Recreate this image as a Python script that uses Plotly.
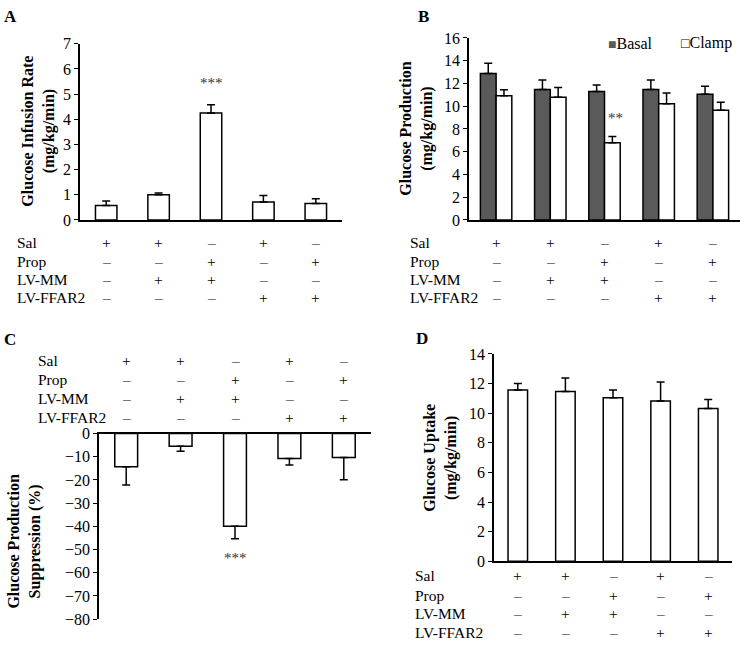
import plotly.graph_objects as go

W, H = 745, 647

# ---------------- data ----------------
groups = ["G1", "G2", "G3", "G4", "G5"]
row_labels = ["Sal", "Prop", "LV-MM", "LV-FFAR2"]
sal = ["+", "+", "–", "+", "–"]
prop = ["–", "–", "+", "–", "+"]
lvmm = ["–", "+", "+", "–", "–"]
lvffar2 = ["–", "–", "–", "+", "+"]
table_rows = [sal, prop, lvmm, lvffar2]

gir_mean = [0.58, 1.00, 4.25, 0.71, 0.65]
gir_err = [0.17, 0.07, 0.33, 0.26, 0.19]

basal_mean = [12.87, 11.46, 11.29, 11.46, 11.04]
basal_err = [0.90, 0.83, 0.58, 0.83, 0.71]
clamp_mean = [10.92, 10.78, 6.79, 10.21, 9.64]
clamp_err = [0.52, 0.85, 0.54, 0.94, 0.71]

supp_mean = [-14.3, -5.5, -39.9, -10.8, -10.3]
supp_err = [7.9, 2.1, 5.4, 2.8, 9.6]

uptake_mean = [11.57, 11.46, 11.04, 10.82, 10.32]
uptake_err = [0.43, 0.92, 0.53, 1.28, 0.61]

FONT = "Liberation Serif, Times New Roman, serif"
BASAL_COLOR = "#5a5a5a"


def px_x(p):
    return p / W


def px_y(p):
    return 1 - p / H


fig = go.Figure()

bar_line = dict(color="black", width=1.5)


def err(vals, up=True):
    zeros = [0] * len(vals)
    return dict(type="data", symmetric=False,
                array=vals if up else zeros,
                arrayminus=zeros if up else vals,
                color="black", thickness=1.5, width=4)


# A
fig.add_trace(go.Bar(x=groups, y=gir_mean, width=0.41, marker=dict(color="white", line=bar_line),
                     error_y=err(gir_err), xaxis="x", yaxis="y", showlegend=False))
# B
fig.add_trace(go.Bar(x=groups, y=basal_mean, width=0.29, offset=-0.29,
                     marker=dict(color=BASAL_COLOR, line=bar_line),
                     error_y=err(basal_err), xaxis="x2", yaxis="y2", name="Basal", showlegend=False))
fig.add_trace(go.Bar(x=groups, y=clamp_mean, width=0.29, offset=0.0,
                     marker=dict(color="white", line=bar_line),
                     error_y=err(clamp_err), xaxis="x2", yaxis="y2", name="Clamp", showlegend=False))
# C
fig.add_trace(go.Bar(x=groups, y=supp_mean, width=0.42, marker=dict(color="white", line=bar_line),
                     error_y=err(supp_err, up=False), xaxis="x3", yaxis="y3", showlegend=False))
# D
fig.add_trace(go.Bar(x=groups, y=uptake_mean, width=0.41, marker=dict(color="white", line=bar_line),
                     error_y=err(uptake_err), xaxis="x4", yaxis="y4", showlegend=False))

tickfont = dict(family=FONT, size=16, color="black")

xcommon = dict(type="category", showline=True, linecolor="black", linewidth=1.5,
               showticklabels=False, ticks="", showgrid=False, zeroline=False, fixedrange=True)
ycommon = dict(showline=True, linecolor="black", linewidth=1.5, ticks="outside", ticklen=4,
               tickwidth=1.2, tickcolor="black", showgrid=False, zeroline=False,
               tickfont=tickfont, fixedrange=True)

fig.update_layout(
    width=W, height=H,
    margin=dict(l=0, r=0, t=0, b=0),
    paper_bgcolor="white", plot_bgcolor="white",
    barmode="overlay",
    showlegend=False,
    font=dict(family=FONT, color="black"),
    xaxis=dict(domain=[px_x(80), px_x(342)], anchor="y", **xcommon),
    yaxis=dict(domain=[px_y(217.7), px_y(36.7)], range=[0, 7], dtick=1, anchor="x", **ycommon),
    xaxis2=dict(domain=[px_x(469), px_x(740)], anchor="y2", **xcommon),
    yaxis2=dict(domain=[px_y(217.7), px_y(30.7)], range=[0, 16], dtick=2, anchor="x2", **ycommon),
    xaxis3=dict(domain=[px_x(99), px_x(371)], anchor="y3", side="top", **xcommon),
    yaxis3=dict(domain=[px_y(627.7), px_y(437)], range=[-80, 0], dtick=10, anchor="x3", **ycommon),
    xaxis4=dict(domain=[px_x(494), px_x(732)], anchor="y4", **xcommon),
    yaxis4=dict(domain=[px_y(568.3), px_y(355.3)], range=[0, 14], dtick=2, anchor="x4", **ycommon),
)

ann = []
# panel letters
for letter, x, y in [("A", 2, 9), ("B", 416, 9), ("C", 2, 340), ("D", 414, 339)]:
    ann.append(dict(text="<b>%s</b>" % letter, x=px_x(x), y=px_y(y), xref="paper", yref="paper",
                    xanchor="left", yanchor="middle", showarrow=False,
                    font=dict(family=FONT, size=17, color="black")))

# y titles
titlefont = dict(family=FONT, size=16, color="black")
for txt, x, y in [("<b>Glucose Infusion Rate<br>(mg/kg/min)</b>", 39, 127),
                  ("<b>Glucose Production<br>(mg/kg/min)</b>", 417, 124),
                  ("<b>Glucose Production<br>Suppression (%)</b>", 25, 548),
                  ("<b>Glucose Uptake<br>(mg/kg/min)</b>", 441, 462)]:
    ann.append(dict(text=txt, x=px_x(x), y=px_y(y), xref="paper", yref="paper", textangle=-90,
                    xanchor="center", yanchor="middle", showarrow=False, font=titlefont))

# treatment tables
tablefont = dict(family=FONT, size=15.5, color="black")
panels = [("x", 15, [241, 260, 278.5, 297]),
          ("x2", 408, [241, 260, 278.5, 297]),
          ("x3", 36, [362, 382, 401, 421]),
          ("x4", 413, [583, 603, 622, 641])]
for xref, lx, ys in panels:
    for lab, row, yy in zip(row_labels, table_rows, ys):
        ann.append(dict(text=lab, x=px_x(lx), y=px_y(yy), xref="paper", yref="paper",
                        xanchor="left", yanchor="middle", showarrow=False, font=tablefont))
        for g, s in zip(groups, row):
            ann.append(dict(text=s, x=g, y=px_y(yy), xref=xref, yref="paper",
                            xanchor="center", yanchor="middle", showarrow=False, font=tablefont))

# significance marks
sigfont = dict(family=FONT, size=15, color="#333333")
ann.append(dict(text="***", x="G3", y=5.45, xref="x", yref="y", showarrow=False, font=sigfont))
ann.append(dict(text="**", x="G3", y=9.0, xref="x2", yref="y2", xshift=11, showarrow=False, font=sigfont))
ann.append(dict(text="***", x="G3", y=-53.5, xref="x3", yref="y3", showarrow=False, font=sigfont))

# legend for panel B
legfont = dict(family=FONT, size=16, color="black")
ann.append(dict(text='<span style="color:%s;font-size:14px">■</span>Basal' % BASAL_COLOR,
                x=px_x(606), y=px_y(36),
                xref="paper", yref="paper", xanchor="left", yanchor="middle", showarrow=False, font=legfont))
ann.append(dict(text='<span style="font-size:14px">□</span>Clamp', x=px_x(679), y=px_y(36),
                xref="paper", yref="paper", xanchor="left", yanchor="middle", showarrow=False, font=legfont))

fig.update_layout(annotations=ann)

fig.write_html("out.html", post_script="document.body.style.margin='0';",
               config={"displayModeBar": False})
